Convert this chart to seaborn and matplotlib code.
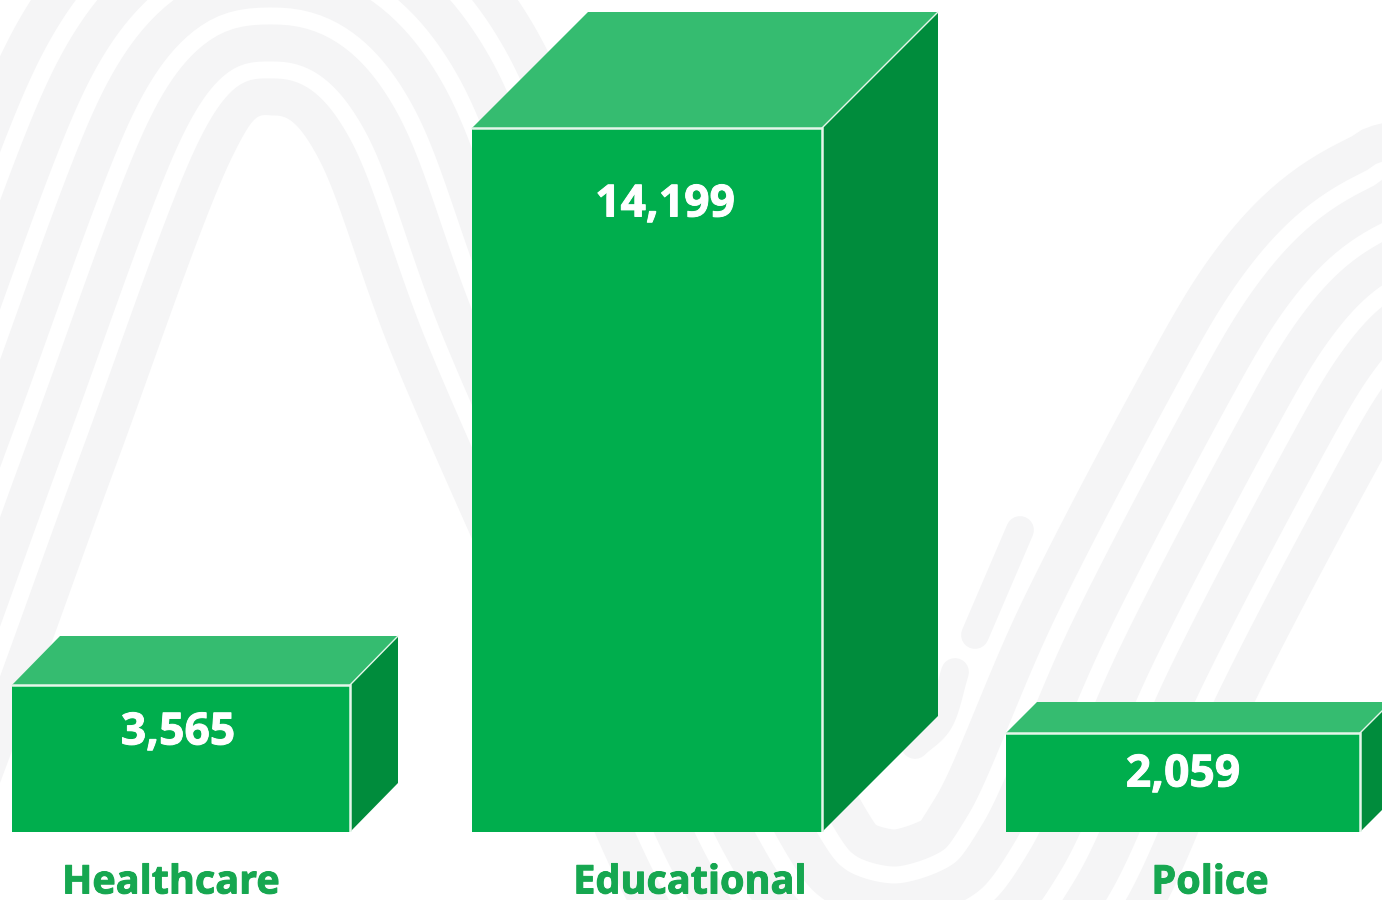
import numpy as np
import pandas as pd
import matplotlib
matplotlib.use("Agg")
import matplotlib.pyplot as plt
import matplotlib.patheffects as pe
from matplotlib.patches import Polygon
import seaborn as sns

# ---- data ----
categories = ["Healthcare", "Educational", "Police"]
values = [3565, 14199, 2059]
value_labels = ["3,565", "14,199", "2,059"]

# ---- layout (pixels of the 1382x900 canvas) ----
W, H, BASE = 1382, 900, 832
bar_left = [12, 472, 1006]
bar_right = [350, 822, 1360]
depth_x = [48, 116, 31]
depth_y = [49, 116, 31]
value_label_pos = [(178, 733), (665, 205), (1183, 775)]
cat_label_pos = [(171, 883), (690, 883), (1210, 883)]

# The original's bars are not drawn to a linear scale: this maps values to
# pixel heights through the heights seen in the picture.
scale_values = [0, 2059, 3565, 14199, 16800]
scale_pixels = [0, 99, 147, 704, BASE]
fwd = lambda v: np.interp(v, scale_values, scale_pixels)
inv = lambda p: np.interp(p, scale_pixels, scale_values)

FRONT, TOP, SIDE = "#00ae4d", "#35bc70", "#008c3c"
EDGE, TEXT_GREEN, STRIPE = "#e4f6ea", "#16a750", "#f5f5f6"

# background: a decorative wave, drawn as parallel offsets of one guide curve
wave_guide = [(-420, 1830), (-110, 1020), (0, 730), (100, 455), (215, 150), (275, 97), (335, 150),
              (410, 350), (530, 625), (645, 895), (746, 1020), (895, 1064), (1044, 1020), (1139, 914),
              (1235, 700), (1350, 480), (1405, 388), (1445, 352), (1490, 345), (1800, 345)]
wave_offsets = [0, 54, 108, 162, 216]
stripe_width = 37
short_strokes = [[(1020, 530), (975, 635)],
                 [(955, 672), (940, 720), (915, 745)]]


def smooth(points, n=30):
    p = np.array(points, float)
    if len(p) < 3:
        return p
    p = np.vstack([2 * p[0] - p[1], p, 2 * p[-1] - p[-2]])
    t = np.linspace(0, 1, n, endpoint=False)[:, None]
    out = []
    for i in range(1, len(p) - 2):
        a, b, c, d = p[i - 1], p[i], p[i + 1], p[i + 2]
        out.append(0.5 * (2 * b + (c - a) * t + (2 * a - 5 * b + 4 * c - d) * t ** 2
                          + (3 * b - a - 3 * c + d) * t ** 3))
    return np.vstack(out + [p[-2][None]])


def resample(curve, step=4.0):
    seg = np.hypot(*np.diff(curve, axis=0).T)
    s = np.concatenate([[0], np.cumsum(seg)])
    q = np.arange(0, s[-1], step)
    return np.column_stack([np.interp(q, s, curve[:, 0]), np.interp(q, s, curve[:, 1])])


def offset(curve, d, sigma=9):
    tan = np.gradient(curve, axis=0)
    tan = tan / np.hypot(tan[:, 0], tan[:, 1])[:, None]
    half = 4 * sigma
    kernel = np.exp(-0.5 * (np.arange(-half, half + 1) / sigma) ** 2)
    kernel /= kernel.sum()
    tx = np.convolve(np.pad(tan[:, 0], half, mode="edge"), kernel, mode="valid")
    ty = np.convolve(np.pad(tan[:, 1], half, mode="edge"), kernel, mode="valid")
    nrm = np.hypot(tx, ty)
    return curve + d * np.column_stack([ty / nrm, -tx / nrm])


sns.set_theme(style="white")
plt.rcParams["font.family"] = ["Open Sans", "DejaVu Sans"]

fig = plt.figure(figsize=(W / 100, H / 100), dpi=100, facecolor="white")

bg = fig.add_axes([0, 0, 1, 1], zorder=0)
bg.set_xlim(0, W)
bg.set_ylim(H, 0)
bg.axis("off")
guide = resample(smooth(wave_guide))
for d in wave_offsets:
    outer = offset(guide, d + stripe_width / 2)
    inner = offset(guide, d - stripe_width / 2)
    bg.add_patch(Polygon(np.vstack([outer, inner[::-1]]), closed=True, fc=STRIPE, ec="none"))
for s in short_strokes:
    c = smooth(s)
    bg.plot(c[:, 0], c[:, 1], color=STRIPE, lw=20, solid_capstyle="round", solid_joinstyle="round")

ax = fig.add_axes([0, (H - BASE) / H, 1, BASE / H], zorder=1)
ax.patch.set_alpha(0)
centers = [(l + r) / 2 for l, r in zip(bar_left, bar_right)]
df = pd.DataFrame({"center": centers, "value": values, "category": categories})
sns.barplot(data=df, x="center", y="value", native_scale=True, color=FRONT, saturation=1,
            width=1, linewidth=0, ax=ax, zorder=3)
ax.set_yscale("function", functions=(fwd, inv))
ax.set_xlim(0, W)
ax.set_ylim(0, scale_values[-1])
ax.set_xlabel("")
ax.set_ylabel("")
ax.set_xticks([])
ax.set_yticks([])
ax.minorticks_off()
for sp in ax.spines.values():
    sp.set_visible(False)

for patch, l, r in zip(ax.patches, bar_left, bar_right):
    patch.set_x(l)
    patch.set_width(r - l)

for l, r, v, dx, dy in zip(bar_left, bar_right, values, depth_x, depth_y):
    h = float(fwd(v))
    top_v, back_v, floor_v = v, float(inv(h + dy)), float(inv(dy))
    ax.add_patch(Polygon([(l, top_v), (l + dx, back_v), (r + dx, back_v), (r, top_v)],
                         closed=True, fc=TOP, ec="none", zorder=2))
    ax.add_patch(Polygon([(r, top_v), (r + dx, back_v), (r + dx, floor_v), (r, 0)],
                         closed=True, fc=SIDE, ec="none", zorder=2))
    ax.plot([l, r, r], [top_v, top_v, 0], color=EDGE, lw=1.8, zorder=4, solid_joinstyle="miter")
    ax.plot([r, r + dx], [top_v, back_v], color=EDGE, lw=1.0, zorder=4)

for (x, y), t in zip(value_label_pos, value_labels):
    fig.text(x / W, 1 - y / H, t, color="white", fontsize=32, fontweight="bold",
             ha="center", va="center", zorder=5,
             path_effects=[pe.withStroke(linewidth=0.7, foreground="white")])
for (x, y), t in zip(cat_label_pos, categories):
    fig.text(x / W, 1 - y / H, t, color=TEXT_GREEN, fontsize=28.5, fontweight="bold",
             ha="center", va="center", zorder=5,
             path_effects=[pe.withStroke(linewidth=0.7, foreground=TEXT_GREEN)])

fig.savefig("out.png", dpi=100)
